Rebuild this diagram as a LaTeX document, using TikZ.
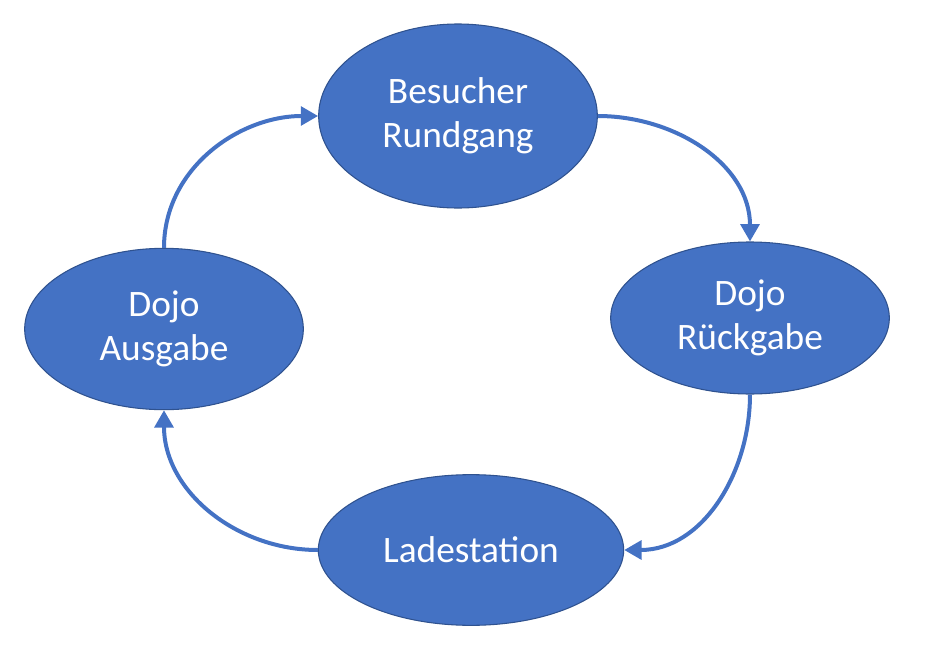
\documentclass[tikz,border=0pt]{standalone}
\usepackage{fontspec}
\setmainfont{Carlito}
\usetikzlibrary{shapes.geometric,arrows.meta}
\definecolor{stationfill}{HTML}{4472C4}
\definecolor{stationline}{HTML}{2F528F}
\begin{document}
\begin{tikzpicture}[x=0.75pt,y=-0.75pt]

        \useasboundingbox (0,0) rectangle (926,650);

        \begin{scope}[every node/.style={ellipse, draw=stationline, line width=0.8pt,
            fill=stationfill, text=white, inner sep=0pt, align=center,
            minimum width=209pt, minimum height=118pt,
            font=\fontsize{28}{33}\selectfont}]
          \node[minimum height=138pt] (rundgang) at (458,116) {Besucher\\Rundgang};
          \node[minimum height=114pt] (rueckgabe) at (750,318) {Dojo\\Rückgabe};
          \node[minimum height=121pt] (ausgabe)   at (164,329) {Dojo\\Ausgabe};
          \node[minimum width=229pt, minimum height=113pt] (lade) at (471,550) {Ladestation};
        \end{scope}

        \begin{scope}[every edge/.style={draw=stationfill, line width=3pt,
            -{Triangle[width=14pt,length=13pt]}}]
          \path (rundgang.east)  edge[out=0, in=90]    (rueckgabe.north);
          \path (rueckgabe.south) edge[out=-90, in=0]  (lade.east);
          \path (lade.west)      edge[out=180, in=-90] (ausgabe.south);
          \path (ausgabe.north)  edge[out=90, in=180]  (rundgang.west);
        \end{scope}

      \end{tikzpicture}
\end{document}
